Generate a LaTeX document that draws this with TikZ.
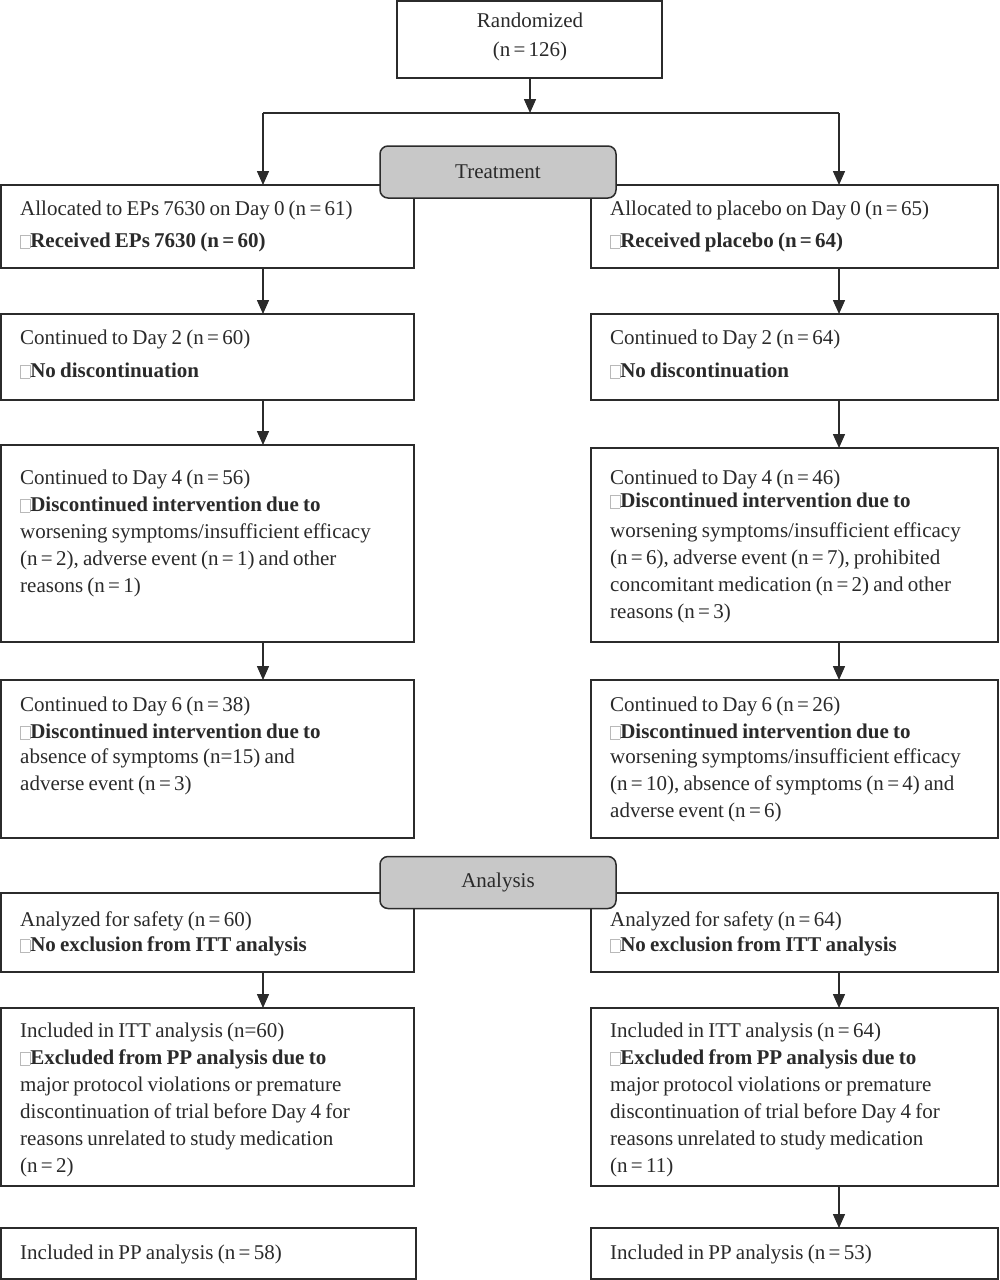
\documentclass[tikz,border=0pt]{standalone}
\usepackage{fontspec}
\setmainfont{Liberation Serif}
\usetikzlibrary{arrows.meta}
\definecolor{lc}{HTML}{2B2B2B}
\definecolor{hdrfill}{HTML}{C8C8C8}
\definecolor{tc}{HTML}{2A2A2A}
\newcommand{\myfs}{\fontsize{21}{27}\selectfont\spaceskip=4.2pt plus 1pt minus 0.5pt\relax}
\newcommand{\eq}{\hspace{3.3pt}=\hspace{3.3pt}}
\newcommand{\tofu}{{\color{gray!55}\setlength{\fboxsep}{0pt}\setlength{\fboxrule}{0.8pt}\fbox{\rule{0pt}{12pt}\hspace{8.5pt}}}}
\begin{document}
\begin{tikzpicture}[x=1pt,y=-1pt,
  box/.style={draw=lc, line width=1.5pt, anchor=north west, inner sep=0pt, outer sep=0pt},
  hdr/.style={draw=lc, line width=1.5pt, fill=hdrfill, rounded corners=8pt, minimum width=236pt, minimum height=52pt, inner sep=0pt, text=tc, font=\myfs},
  txt/.style={anchor=north west, inner sep=0pt, align=left, text=tc, font=\myfs},
  arr/.style={draw=lc, line width=1.5pt, -{Triangle[length=14pt,width=12pt]}},
  ln/.style={draw=lc, line width=1.5pt}]
\useasboundingbox (0,0) rectangle (1000,1280);
\fill[white] (0,0) rectangle (1000,1280);
% boxes
\node[box, minimum width=265pt, minimum height=77pt] (rand) at (397,1) {};
\node[box, minimum width=413pt, minimum height=83pt] (A1) at (1,185) {};
\node[box, minimum width=407pt, minimum height=83pt] (B1) at (591,185) {};
\node[box, minimum width=413pt, minimum height=86pt] (A2) at (1,314) {};
\node[box, minimum width=407pt, minimum height=86pt] (B2) at (591,314) {};
\node[box, minimum width=413pt, minimum height=197pt] (A3) at (1,445) {};
\node[box, minimum width=407pt, minimum height=194pt] (B3) at (591,448) {};
\node[box, minimum width=413pt, minimum height=158pt] (A4) at (1,680) {};
\node[box, minimum width=407pt, minimum height=158pt] (B4) at (591,680) {};
\node[box, minimum width=413pt, minimum height=79pt] (A5) at (1,893) {};
\node[box, minimum width=407pt, minimum height=79pt] (B5) at (591,893) {};
\node[box, minimum width=413pt, minimum height=178pt] (A6) at (1,1008) {};
\node[box, minimum width=407pt, minimum height=178pt] (B6) at (591,1008) {};
\node[box, minimum width=415pt, minimum height=51pt] (A7) at (1,1228) {};
\node[box, minimum width=407pt, minimum height=51pt] (B7) at (591,1228) {};
% headers
\node[hdr] (treat) at (498,172) {Treatment};
\node[hdr] (anal) at (498,882.5) {Analysis};
% texts
\node[txt, anchor=north, align=center] (tR) at (530,13) {Randomized\\[2pt](n\eq 126)};
\node[txt] (tA1) at (20,201) {Allocated to EPs 7630 on Day 0 (n\eq 61)\\[5pt]\tofu\textbf{Received EPs 7630 (n\eq 60)}};
\node[txt] (tB1) at (610,201) {Allocated to placebo on Day 0 (n\eq 65)\\[5pt]\tofu\textbf{Received placebo (n\eq 64)}};
\node[txt] (tA2) at (20,330) {Continued to Day 2 (n\eq 60)\\[6pt]\tofu\textbf{No discontinuation}};
\node[txt] (tB2) at (610,330) {Continued to Day 2 (n\eq 64)\\[6pt]\tofu\textbf{No discontinuation}};
\node[txt] (tA3) at (20,470) {Continued to Day 4 (n\eq 56)\\\tofu\textbf{Discontinued intervention due to}\\worsening symptoms/insufficient efficacy\\(n\eq 2), adverse event (n\eq 1) and other\\reasons (n\eq 1)};
\node[txt] (tB3) at (610,470) {Continued to Day 4 (n\eq 46)\\[-4pt]\tofu\textbf{Discontinued intervention due to}\\[3pt]worsening symptoms/insufficient efficacy\\(n\eq 6), adverse event (n\eq 7), prohibited\\concomitant medication (n\eq 2) and other\\reasons (n\eq 3)};
\node[txt] (tA4) at (20,697) {Continued to Day 6 (n\eq 38)\\\tofu\textbf{Discontinued intervention due to}\\[-2pt]absence of symptoms (n=15) and\\adverse event (n\eq 3)};
\node[txt] (tB4) at (610,697) {Continued to Day 6 (n\eq 26)\\\tofu\textbf{Discontinued intervention due to}\\[-2pt]worsening symptoms/insufficient efficacy\\(n\eq 10), absence of symptoms (n\eq 4) and\\adverse event (n\eq 6)};
\node[txt] (tA5) at (20,912) {Analyzed for safety (n\eq 60)\\[-2pt]\tofu\textbf{No exclusion from ITT analysis}};
\node[txt] (tB5) at (610,912) {Analyzed for safety (n\eq 64)\\[-2pt]\tofu\textbf{No exclusion from ITT analysis}};
\node[txt] (tA6) at (20,1023) {Included in ITT analysis (n=60)\\\tofu\textbf{Excluded from PP analysis due to}\\major protocol violations or premature\\discontinuation of trial before Day 4 for\\reasons unrelated to study medication\\(n\eq 2)};
\node[txt] (tB6) at (610,1023) {Included in ITT analysis (n\eq 64)\\\tofu\textbf{Excluded from PP analysis due to}\\major protocol violations or premature\\discontinuation of trial before Day 4 for\\reasons unrelated to study medication\\(n\eq 11)};
\node[txt] (tA7) at (20,1245) {Included in PP analysis (n\eq 58)};
\node[txt] (tB7) at (610,1245) {Included in PP analysis (n\eq 53)};
% connectors
\coordinate (split) at (530,113);
\coordinate (sl) at (263,113);
\coordinate (sr) at (839,113);
\draw[arr] (rand.south -| split) -- (split);
\draw[ln] (sl) -- (sr);
\draw[arr] (sl) -- (A1.north -| sl);
\draw[arr] (sr) -- (B1.north -| sr);
\draw[arr] (A1.south -| sl) -- (A2.north -| sl);
\draw[arr] (A2.south -| sl) -- (A3.north -| sl);
\draw[arr] (A3.south -| sl) -- (A4.north -| sl);
\draw[arr] (A5.south -| sl) -- (A6.north -| sl);
\draw[arr] (B1.south -| sr) -- (B2.north -| sr);
\draw[arr] (B2.south -| sr) -- (B3.north -| sr);
\draw[arr] (B3.south -| sr) -- (B4.north -| sr);
\draw[arr] (B5.south -| sr) -- (B6.north -| sr);
\draw[arr] (B6.south -| sr) -- (B7.north -| sr);
\end{tikzpicture}
\end{document}
